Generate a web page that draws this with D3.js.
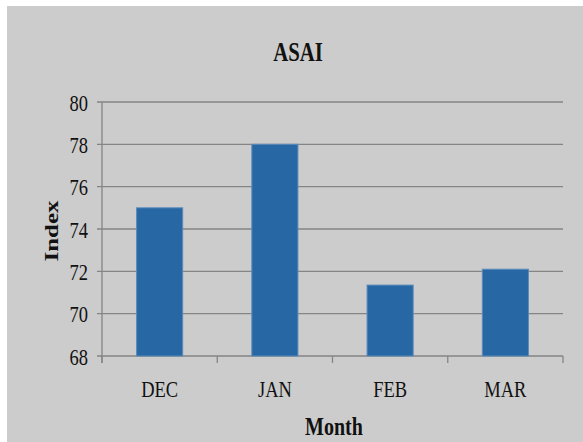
<!DOCTYPE html>
<html><head><meta charset="utf-8">
<script src="https://cdn.jsdelivr.net/npm/d3@7"></script>
<style>html,body{margin:0;padding:0;background:#fff;}svg{display:block;}</style>
</head><body>
<svg id="c" width="583" height="442"></svg>
<script>
const categories = ["DEC", "JAN", "FEB", "MAR"];
const values = [75.0, 78.0, 71.35, 72.1];
const yTicks = [68, 70, 72, 74, 76, 78, 80];
const title = "ASAI";
const xTitle = "Month";
const yTitle = "Index";

const svg = d3.select("#c");
const SX = 0.77;
const font = "'Liberation Serif','Times New Roman',serif";
svg.append("rect").attr("x", 7).attr("y", 6).attr("width", 576).attr("height", 436).attr("fill", "#cccccc");

const x = d3.scaleBand().domain(categories).range([102, 563]).paddingInner(0.6).paddingOuter(0.3);
const xb = d3.scaleBand().domain(categories).range([102, 563]);
const y = d3.scaleLinear().domain([68, 80]).range([356, 102]);

function txt(g, px, py, s, size, bold, anchor, rot) {
  return g.append("text")
    .attr("transform", `translate(${px},${py})${rot ? " rotate(" + rot + ")" : ""} scale(${rot ? "1," + SX : SX + ",1"})`)
    .attr("font-family", font).attr("font-size", size).attr("font-weight", bold ? "bold" : "normal")
    .attr("text-anchor", anchor).attr("fill", "#111").text(s);
}

// gridlines
svg.append("g").selectAll("line").data(yTicks).join("line")
  .attr("x1", 97).attr("x2", 563).attr("y1", d => y(d)).attr("y2", d => y(d))
  .attr("stroke", "#858585").attr("stroke-width", 1.3);

// bars
svg.append("g").selectAll("rect").data(categories).join("rect")
  .attr("x", d => x(d)).attr("width", x.bandwidth())
  .attr("y", (d, i) => y(values[i])).attr("height", (d, i) => y(68) - y(values[i]))
  .attr("fill", "#2767a3").attr("stroke", "#5a8bbd").attr("stroke-width", 1);

// y axis line
svg.append("line").attr("x1", 102).attr("x2", 102).attr("y1", 102).attr("y2", 363)
  .attr("stroke", "#858585").attr("stroke-width", 1.3);
// x ticks
const bounds = categories.map(c => xb(c)).concat([563]);
svg.append("g").selectAll("line").data(bounds).join("line")
  .attr("x1", d => d).attr("x2", d => d).attr("y1", 356).attr("y2", 363)
  .attr("stroke", "#858585").attr("stroke-width", 1.3);

// tick labels
const tg = svg.append("g");
yTicks.forEach(t => txt(tg, 88, y(t) + 8.5, String(t), 24, false, "end"));
categories.forEach(c => txt(tg, xb(c) + xb.bandwidth() / 2, 397, c, 24, false, "middle"));

txt(svg, 298, 61, title, 27, true, "middle");
txt(svg, 334, 435, xTitle, 26, true, "middle");
txt(svg, 58, 231, yTitle, 25, true, "middle", -90);
</script>
</body></html>
